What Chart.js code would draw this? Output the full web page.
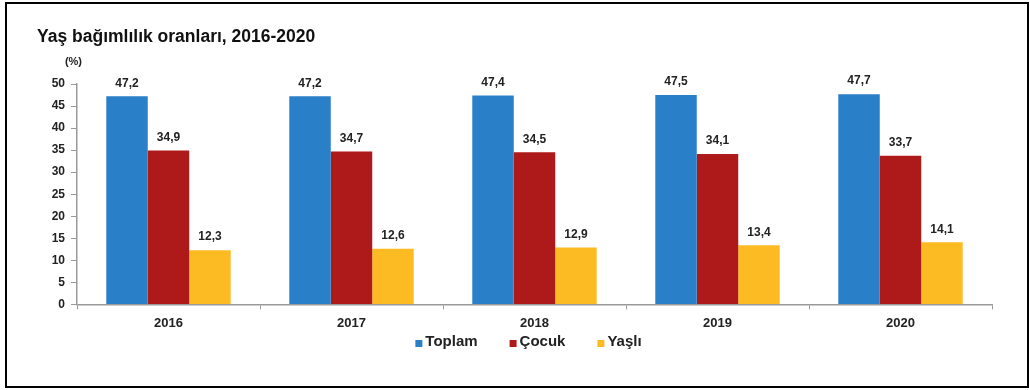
<!DOCTYPE html>
<html>
<head>
<meta charset="utf-8">
<script src="https://cdn.jsdelivr.net/npm/chart.js@4"></script>
<style>
  html, body { margin: 0; padding: 0; background: #fff; }
  canvas { display: block; }
</style>
</head>
<body>
<canvas id="dependencyChart" width="1030" height="390"></canvas>
<script>
const years = ['2016', '2017', '2018', '2019', '2020'];
const toplam = [47.2, 47.2, 47.4, 47.5, 47.7];
const cocuk = [34.9, 34.7, 34.5, 34.1, 33.7];
const yasli = [12.3, 12.6, 12.9, 13.4, 14.1];
const yTicks = [0, 5, 10, 15, 20, 25, 30, 35, 40, 45, 50];

const fontFamily = '"Liberation Sans", Arial, sans-serif';
const textColor = '#222';
const axisColor = '#9a9a9a';

// frame around the whole figure
const framePlugin = {
    id: 'frame',
    afterDraw(chart) {
        const ctx = chart.ctx;
        ctx.save();
        ctx.strokeStyle = '#000';
        ctx.lineWidth = 2;
        ctx.strokeRect(6, 3, 1022, 384);
        ctx.restore();
    }
};

// "(%)" unit note above the y axis
const unitPlugin = {
    id: 'unitNote',
    afterDraw(chart) {
        const ctx = chart.ctx;
        const area = chart.chartArea;
        ctx.save();
        ctx.font = 'bold 11px ' + fontFamily;
        ctx.fillStyle = textColor;
        ctx.textAlign = 'right';
        ctx.textBaseline = 'middle';
        ctx.fillText('(%)', area.left + 5, area.top - 22);
        ctx.restore();
    }
};

// value labels above each bar
const valueLabels = {
    id: 'valueLabels',
    afterDatasetsDraw(chart) {
        const ctx = chart.ctx;
        ctx.save();
        ctx.font = 'bold 12px ' + fontFamily;
        ctx.fillStyle = textColor;
        ctx.textAlign = 'center';
        ctx.textBaseline = 'bottom';
        chart.data.datasets.forEach((ds, i) => {
            chart.getDatasetMeta(i).data.forEach((bar, j) => {
                const txt = ds.data[j].toFixed(1).replace('.', ',');
                ctx.fillText(txt, bar.x, bar.y - 7);
            });
        });
        ctx.restore();
    }
};

// compact legend row under the x axis labels
const bottomLegend = {
    id: 'bottomLegend',
    afterDraw(chart) {
        const ctx = chart.ctx;
        const area = chart.chartArea;
        const box = 7, boxGap = 3, itemGap = 32;
        ctx.save();
        ctx.font = 'bold 15px ' + fontFamily;
        const items = chart.data.datasets.map(ds => ({
            text: ds.label,
            color: ds.backgroundColor,
            w: box + boxGap + ctx.measureText(ds.label).width
        }));
        const total = items.reduce((s, it) => s + it.w, 0) + itemGap * (items.length - 1);
        let x = (area.left + area.right) / 2 - 6 - total / 2;
        const y = 342;
        ctx.textBaseline = 'middle';
        ctx.textAlign = 'left';
        items.forEach(it => {
            ctx.fillStyle = it.color;
            ctx.fillRect(x, y - 2, box, box);
            ctx.fillStyle = textColor;
            ctx.fillText(it.text, x + box + boxGap, y);
            x += it.w + itemGap;
        });
        ctx.restore();
    }
};

new Chart(document.getElementById('dependencyChart'), {
    type: 'bar',
    data: {
        labels: years,
        datasets: [
            { label: 'Toplam', data: toplam, backgroundColor: '#2a7fc9' },
            { label: 'Çocuk', data: cocuk, backgroundColor: '#ae1919' },
            { label: 'Yaşlı', data: yasli, backgroundColor: '#fcbb22' }
        ]
    },
    options: {
        responsive: false,
        animation: false,
        devicePixelRatio: 1,
        layout: { padding: { left: 37, right: 38, top: 27, bottom: 53 } },
        datasets: {
            bar: { categoryPercentage: 0.68, barPercentage: 1.0 }
        },
        plugins: {
            title: {
                display: true,
                text: 'Yaş bağımlılık oranları, 2016-2020',
                align: 'start',
                color: '#111',
                font: { family: fontFamily, size: 17.5, weight: 'bold' },
                padding: { top: 0, bottom: 36 }
            },
            legend: { display: false },
            tooltip: { enabled: false }
        },
        scales: {
            x: {
                grid: {
                    display: true,
                    drawOnChartArea: false,
                    tickLength: 5,
                    color: axisColor
                },
                border: { color: axisColor, width: 1.5 },
                ticks: {
                    color: textColor,
                    padding: 6,
                    font: { family: fontFamily, size: 13, weight: 'bold' }
                }
            },
            y: {
                min: 0,
                max: 50,
                afterBuildTicks(scale) {
                    scale.ticks = yTicks.map(v => ({ value: v }));
                },
                afterFit(scale) {
                    scale.width = 40;
                },
                grid: {
                    display: true,
                    drawOnChartArea: false,
                    tickLength: 6,
                    color: axisColor
                },
                border: { color: axisColor, width: 1.5 },
                ticks: {
                    color: textColor,
                    padding: 6,
                    font: { family: fontFamily, size: 12, weight: 'bold' }
                }
            }
        }
    },
    plugins: [framePlugin, unitPlugin, valueLabels, bottomLegend]
});
</script>
</body>
</html>
